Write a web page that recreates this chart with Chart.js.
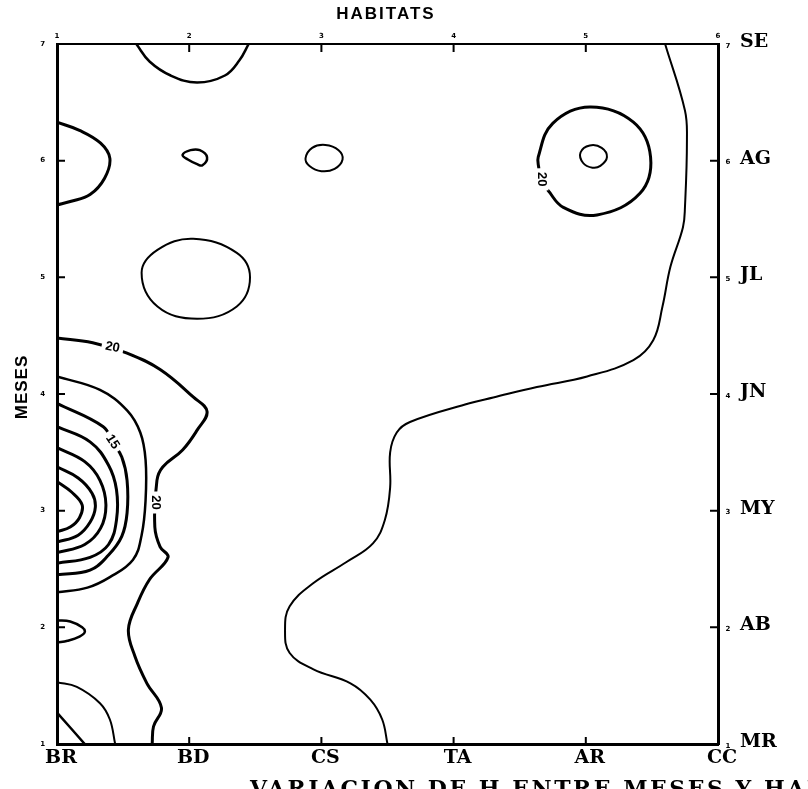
<!DOCTYPE html>
<html>
<head>
<meta charset="utf-8">
<title>Variacion de H entre meses y habitats</title>
<script src="https://cdn.jsdelivr.net/npm/chart.js@4.4.1/dist/chart.umd.min.js"></script>
<style>
    html, body { margin: 0; padding: 0; background: #fff; overflow: hidden; }
    #wrap { position: relative; width: 808px; height: 789px; }
</style>
</head>
<body>
<div id="wrap"><canvas id="contourChart"></canvas></div>
<script>
// Axis categories
const habitatCodes = ['BR', 'BD', 'CS', 'TA', 'AR', 'CC'];
const monthCodes = ['MR', 'AB', 'MY', 'JN', 'JL', 'AG', 'SE'];
const habitatNumbers = [1, 2, 3, 4, 5, 6];
const monthNumbers = [1, 2, 3, 4, 5, 6, 7];

// Contour lines as [habitat, month] pairs
const topArcBD = [[1.60, 7.00], [1.70, 6.85], [1.86, 6.73], [2.06, 6.67], [2.27, 6.73], [2.38, 6.86], [2.45, 7.00]];
const leftLobeAG = [[1.00, 6.33], [1.17, 6.26], [1.33, 6.15], [1.40, 6.02], [1.36, 5.85], [1.25, 5.71], [1.10, 5.65], [1.00, 5.62]];
// closed loops (first point is not repeated)
const smallLoopBD = [[1.95, 6.05], [2.01, 6.09], [2.08, 6.09], [2.135, 6.03], [2.10, 5.96], [2.06, 5.97], [1.99, 6.01]];
const loopCS = [[2.88, 6.02], [2.93, 6.11], [3.03, 6.135], [3.13, 6.09], [3.16, 6.01], [3.10, 5.93], [3.00, 5.91], [2.91, 5.955]];
const coreAR = [[4.96, 6.07], [5.03, 6.13], [5.12, 6.11], [5.16, 6.03], [5.11, 5.955], [5.05, 5.94], [4.98, 5.98]];
const ovalBD = [[2.03, 5.33], [2.36, 5.21], [2.46, 5.00], [2.36, 4.75], [2.06, 4.645], [1.76, 4.75], [1.64, 5.04], [1.76, 5.235]];
// ring round AR, open where its label sits
const ringAR = [[4.71, 5.75], [4.83, 5.60], [5.085, 5.535], [5.41, 5.72], [5.49, 6.03], [5.36, 6.33], [5.03, 6.46], [4.75, 6.32], [4.64, 6.03], [4.645, 5.93]];
const eastBoundary = [
    [5.60, 7.00], [5.75, 6.43], [5.765, 6.18], [5.75, 5.60], [5.735, 5.43], [5.64, 5.09],
    [5.58, 4.75], [5.51, 4.46], [5.36, 4.29], [5.01, 4.15], [4.63, 4.06], [4.30, 3.97],
    [4.12, 3.92], [3.67, 3.76], [3.57, 3.67], [3.52, 3.50], [3.52, 3.20], [3.48, 2.92],
    [3.39, 2.72], [3.19, 2.56], [2.94, 2.38], [2.76, 2.18], [2.725, 1.98], [2.76, 1.78],
    [2.94, 1.64], [3.22, 1.52], [3.37, 1.38], [3.46, 1.21], [3.50, 1.00]
];
const level20West = [
    [1.00, 4.48], [1.27, 4.44], [1.53, 4.35], [1.78, 4.21], [2.03, 3.975], [2.135, 3.85],
    [2.06, 3.69], [1.95, 3.52], [1.80, 3.375], [1.756, 3.26], [1.74, 2.86], [1.78, 2.69],
    [1.84, 2.60], [1.70, 2.41], [1.61, 2.21], [1.54, 1.98], [1.59, 1.75], [1.68, 1.52],
    [1.79, 1.31], [1.73, 1.15], [1.72, 1.00]
];
const peakLoop1 = [[1.00, 4.15], [1.325, 4.035], [1.53, 3.86], [1.63, 3.67], [1.67, 3.435], [1.67, 3.09], [1.64, 2.79], [1.575, 2.58], [1.40, 2.43], [1.23, 2.34], [1.00, 2.30]];
const peakLoop2 = [[1.00, 3.92], [1.35, 3.72], [1.42, 3.59], [1.49, 3.46], [1.53, 3.26], [1.53, 2.98], [1.49, 2.78], [1.39, 2.62], [1.25, 2.49], [1.00, 2.45]];
const peakLoop3 = [[1.00, 3.72], [1.25, 3.59], [1.39, 3.39], [1.45, 3.18], [1.45, 2.92], [1.39, 2.71], [1.25, 2.60], [1.00, 2.55]];
const peakLoop4 = [[1.00, 3.54], [1.21, 3.42], [1.325, 3.26], [1.37, 3.05], [1.33, 2.85], [1.21, 2.71], [1.00, 2.64]];
const peakLoop5 = [[1.00, 3.375], [1.16, 3.28], [1.265, 3.15], [1.29, 3.03], [1.25, 2.90], [1.16, 2.79], [1.00, 2.73]];
const peakLoop6 = [[1.00, 3.25], [1.11, 3.16], [1.19, 3.05], [1.17, 2.94], [1.10, 2.86], [1.00, 2.82]];
const lobeAB = [[1.00, 2.06], [1.10, 2.05], [1.19, 2.00], [1.21, 1.96], [1.17, 1.92], [1.08, 1.885], [1.00, 1.87]];
const cornerArcMR = [[1.00, 1.53], [1.15, 1.49], [1.325, 1.35], [1.40, 1.21], [1.44, 1.00]];
const cornerDiagMR = [[1.00, 1.27], [1.21, 1.00]];

// Contour level labels: [habitat, month, text, angle in radians]
const contourLabels = [
    [1.42, 4.40, '20', 0.2],
    [1.42, 3.59, '15', 1.0],
    [1.745, 3.07, '20', Math.PI / 2],
    [4.665, 5.84, '20', Math.PI / 2]
];

const captionText = 'VARIACION DE H ENTRE MESES Y HABITATS';

let chart;

document.addEventListener('DOMContentLoaded', function() {
    initChart();
});

function toPoints(pairs) {
    return pairs.map(p => ({ x: p[0], y: p[1] }));
}

function lineSet(pairs, width) {
    return {
        data: toPoints(pairs),
        showLine: true,
        borderColor: '#000',
        backgroundColor: '#000',
        borderWidth: width,
        pointRadius: 0,
        tension: 0.4,
        fill: false
    };
}

// closed contour: pad with a neighbour on each side so the join is smooth,
// then hide the two padding segments
function loopSet(pairs, width) {
    const n = pairs.length;
    const padded = [pairs[n - 1]].concat(pairs, [pairs[0], pairs[1]]);
    const last = padded.length - 1;
    const set = lineSet(padded, width);
    set.segment = {
        borderColor: s => (s.p0DataIndex === 0 || s.p1DataIndex === last) ? 'rgba(0,0,0,0)' : undefined
    };
    return set;
}

// Ticks pointing inward, tiny numbers, titles and the contour labels
const scanMarks = {
    id: 'scanMarks',
    afterDatasetsDraw(c) {
        const ctx = c.ctx;
        const xs = c.scales.x;
        const ys = c.scales.y;
        ctx.save();
        ctx.fillStyle = '#000';
        ctx.textAlign = 'center';
        ctx.textBaseline = 'middle';
        ctx.font = 'bold 13px "Liberation Sans", sans-serif';
        contourLabels.forEach(l => {
            const px = xs.getPixelForValue(l[0]);
            const py = ys.getPixelForValue(l[1]);
            ctx.save();
            ctx.translate(px, py);
            ctx.rotate(l[3]);
            ctx.fillStyle = '#fff';
            ctx.fillRect(-11, -7, 22, 14);
            ctx.fillStyle = '#000';
            ctx.fillText(l[2], 0, 0);
            ctx.restore();
        });
        ctx.restore();
    },
    afterDraw(c) {
        const ctx = c.ctx;
        const area = c.chartArea;
        const xs = c.scales.x;
        const ys = c.scales.y;
        ctx.save();
        ctx.strokeStyle = '#000';
        ctx.lineWidth = 2;
        // inward tick marks
        habitatNumbers.slice(1, -1).forEach(v => {
            const px = xs.getPixelForValue(v);
            ctx.beginPath();
            ctx.moveTo(px, area.top); ctx.lineTo(px, area.top + 8);
            ctx.moveTo(px, area.bottom); ctx.lineTo(px, area.bottom - 7);
            ctx.stroke();
        });
        monthNumbers.slice(1, -1).forEach(v => {
            const py = ys.getPixelForValue(v);
            ctx.beginPath();
            ctx.moveTo(area.left, py); ctx.lineTo(area.left + 8, py);
            ctx.moveTo(area.right, py); ctx.lineTo(area.right - 8, py);
            ctx.stroke();
        });
        // tiny month numbers on the right
        ctx.fillStyle = '#000';
        ctx.font = 'bold 7px "DejaVu Sans", sans-serif';
        ctx.textAlign = 'center';
        ctx.textBaseline = 'middle';
        monthNumbers.forEach(v => {
            ctx.fillText(String(v), area.right + 10, ys.getPixelForValue(v) + 2);
        });
        // axis titles
        ctx.font = 'bold 17px "Liberation Sans", sans-serif';
        ctx.letterSpacing = '2px';
        ctx.fillText('HABITATS', 386, 14);
        ctx.save();
        ctx.translate(22, 387);
        ctx.rotate(-Math.PI / 2);
        ctx.letterSpacing = '1px';
        ctx.font = 'bold 17px "Liberation Sans", sans-serif';
        ctx.fillText('MESES', 0, 0);
        ctx.restore();
        // caption, cut by the bottom edge of the scan
        ctx.letterSpacing = '2.5px';
        ctx.textAlign = 'left';
        ctx.textBaseline = 'alphabetic';
        ctx.font = 'bold 22px "DejaVu Serif", serif';
        ctx.fillText(captionText, 250, 796);
        ctx.restore();
    }
};

function initChart() {
    const ctx = document.getElementById('contourChart').getContext('2d');

    const datasets = [
        lineSet(topArcBD, 2.5),
        lineSet(leftLobeAG, 3),
        loopSet(smallLoopBD, 2.5),
        loopSet(loopCS, 2),
        lineSet(ringAR, 3),
        loopSet(coreAR, 2),
        loopSet(ovalBD, 2),
        lineSet(eastBoundary, 2),
        lineSet(level20West, 3),
        lineSet(peakLoop1, 2.5),
        lineSet(peakLoop2, 3),
        lineSet(peakLoop3, 3),
        lineSet(peakLoop4, 3),
        lineSet(peakLoop5, 3),
        lineSet(peakLoop6, 3),
        lineSet(lobeAB, 2.5),
        lineSet(cornerArcMR, 2),
        lineSet(cornerDiagMR, 2.5)
    ];

    const tinyFont = { family: '"DejaVu Sans", sans-serif', size: 7, weight: 'bold' };
    const codeFont = { family: '"DejaVu Serif", serif', size: 19, weight: 'bold' };

    chart = new Chart(ctx, {
        type: 'scatter',
        data: { datasets: datasets },
        options: {
            responsive: true,
            maintainAspectRatio: false,
            animation: false,
            layout: { padding: 0 },
            plugins: {
                legend: { display: false },
                tooltip: { enabled: false }
            },
            scales: {
                x: {
                    type: 'linear',
                    position: 'bottom',
                    min: 1,
                    max: 6,
                    afterFit: s => { s.height = 45; },
                    afterBuildTicks: s => { s.ticks = habitatNumbers.map(v => ({ value: v })); },
                    ticks: {
                        callback: v => habitatCodes[v - 1],
                        font: codeFont,
                        color: '#000',
                        padding: 3,
                        labelOffset: 4,
                        maxRotation: 0
                    },
                    grid: { display: false, drawTicks: false },
                    border: { display: true, color: '#000', width: 3 }
                },
                xTop: {
                    type: 'linear',
                    position: 'top',
                    min: 1,
                    max: 6,
                    afterFit: s => { s.height = 44; },
                    afterBuildTicks: s => { s.ticks = habitatNumbers.map(v => ({ value: v })); },
                    ticks: { font: tinyFont, color: '#000', padding: 4, maxRotation: 0 },
                    grid: { display: false, drawTicks: false },
                    border: { display: true, color: '#000', width: 2 }
                },
                y: {
                    type: 'linear',
                    position: 'left',
                    min: 1,
                    max: 7,
                    afterFit: s => { s.width = 57; },
                    afterBuildTicks: s => { s.ticks = monthNumbers.map(v => ({ value: v })); },
                    ticks: { font: tinyFont, color: '#000', padding: 12 },
                    grid: { display: false, drawTicks: false },
                    border: { display: true, color: '#000', width: 3 }
                },
                yRight: {
                    type: 'linear',
                    position: 'right',
                    min: 1,
                    max: 7,
                    afterFit: s => { s.width = 90; },
                    afterBuildTicks: s => { s.ticks = monthNumbers.map(v => ({ value: v })); },
                    ticks: {
                        callback: v => monthCodes[v - 1],
                        font: codeFont,
                        color: '#000',
                        padding: 22,
                        labelOffset: -2
                    },
                    grid: { display: false, drawTicks: false },
                    border: { display: true, color: '#000', width: 3 }
                }
            }
        },
        plugins: [scanMarks]
    });
}
</script>
</body>
</html>
